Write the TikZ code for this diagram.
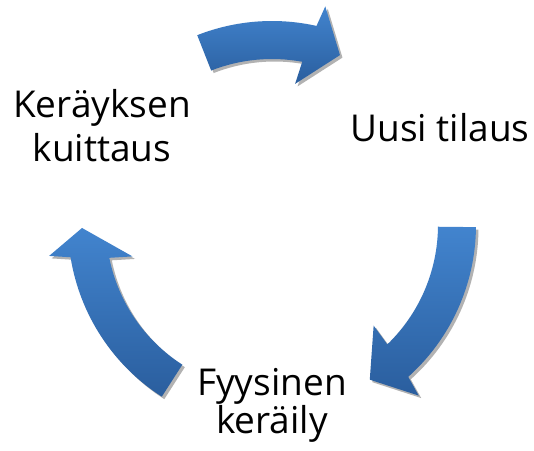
\documentclass[tikz,border=0pt]{standalone}
\usepackage{fontspec}
\setmainfont{Open Sans}
\begin{document}
\begin{tikzpicture}[x=1pt,y=1pt,
  lbl/.style={inner sep=0pt,anchor=base,font=\fontsize{37}{44}\selectfont},
  arrowbody/.style={top color={rgb,255:red,66;green,132;blue,206},
                    bottom color={rgb,255:red,42;green,94;blue,158}},
  arrowshade/.style={fill=black!30}]
\useasboundingbox (0,0) rectangle (534,450);
\fill[white] (0,0) rectangle (534,450);

% curved block arrow around the origin, drawn clockwise:
% #1 tail angle, #2 outer shaft end, #3 outer barb, #4 tip angle,
% #5 tip radius, #6 inner barb, #7 inner shaft end, #8 style
\newcommand\cyclearrow[8]{%
  \path[#8] (#1:204) arc[start angle=#1, end angle=#2, radius=204]
    -- (#3:225) -- (#4:#5) -- (#6:143) -- (#7:166)
    arc[start angle=#7, end angle=#1, radius=166] -- cycle;}

\begin{scope}[shift={(274.5,222.5)}]
  \cyclearrow{111.5}{77.4}{76.3}{68.2}{183}{80.7}{79.5}{arrowshade}
  \cyclearrow{-0.6}{-48.1}{-49.3}{-57.7}{183}{-44.7}{-46.0}{arrowshade}
  \cyclearrow{237.3}{189.1}{187.9}{180.9}{190}{192.7}{191.4}{arrowshade}
\end{scope}
\begin{scope}[shift={(272,225)}]
  \cyclearrow{111.5}{77.4}{76.3}{68.2}{183}{80.7}{79.5}{arrowbody}
  \cyclearrow{-0.6}{-48.1}{-49.3}{-57.7}{183}{-44.7}{-46.0}{arrowbody}
  \cyclearrow{237.3}{189.1}{187.9}{180.9}{190}{192.7}{191.4}{arrowbody}
\end{scope}

\node[lbl] (kuittaus1) at (102,332) {Keräyksen};
\node[lbl] (kuittaus2) at (102,288) {kuittaus};
\node[lbl] (tilaus) at (440,308) {Uusi tilaus};
\node[lbl] (kerailya) at (272,55) {Fyysinen};
\node[lbl] (kerailyb) at (272,17) {keräily};
\end{tikzpicture}
\end{document}
